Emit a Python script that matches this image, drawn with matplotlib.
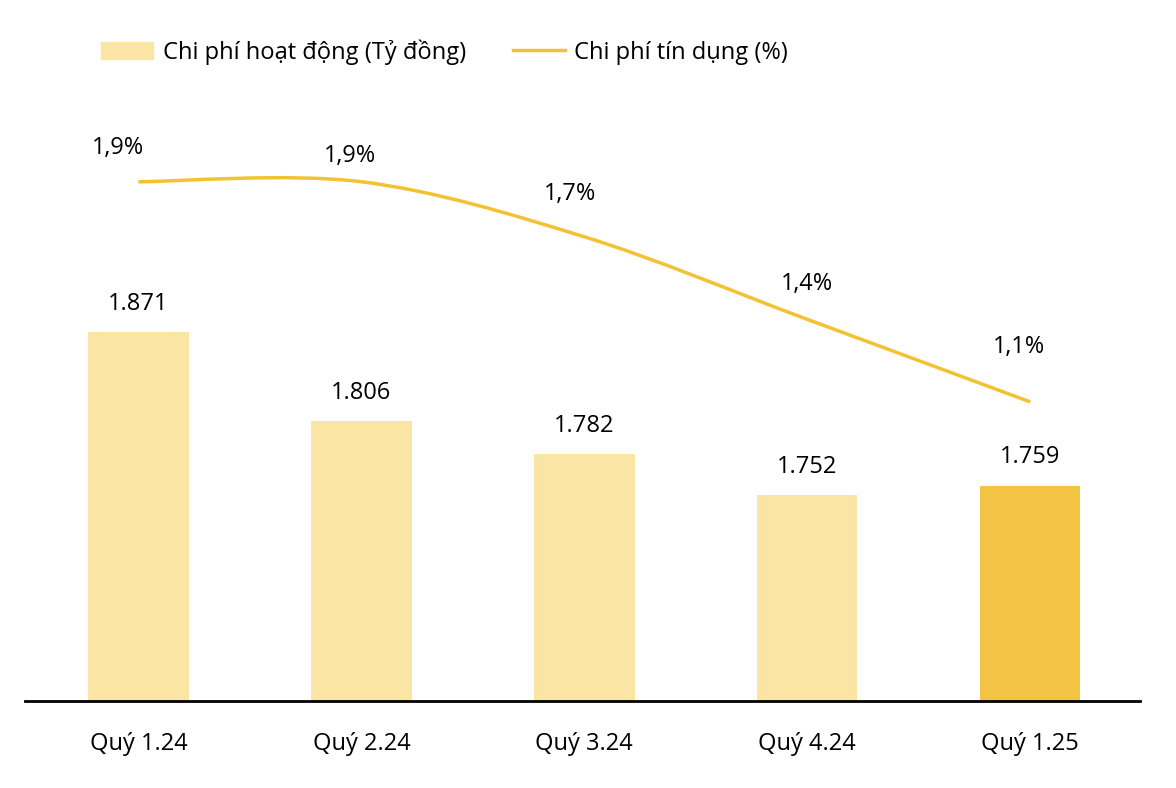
import matplotlib.pyplot as plt
from matplotlib.path import Path
from matplotlib.patches import PathPatch, Patch
from matplotlib.lines import Line2D

plt.rcParams['font.family'] = 'Open Sans'

## Datos
quarters = ['Quý 1.24', 'Quý 2.24', 'Quý 3.24', 'Quý 4.24', 'Quý 1.25']
op_cost = [1871, 1806, 1782, 1752, 1759]
credit_cost = [1.9, 1.9, 1.7, 1.4, 1.1]
op_labels = ['1.871', '1.806', '1.782', '1.752', '1.759']
cc_labels = ['1,9%', '1,9%', '1,7%', '1,4%', '1,1%']

light = '#FAE5A5'
dark = '#F3C343'
line_c = '#F2C233'

fig = plt.figure(figsize=(11.76, 7.88), dpi=100)
ax = fig.add_axes([0.021, 0.1104, 0.948, 0.763])
x = list(range(len(quarters)))
colors = [light] * (len(x) - 1) + [dark]
ax.bar(x, op_cost, width=0.45, color=colors, bottom=0)
ax.set_ylim(1602, 2040.7)
ax.set_xlim(-0.51, 4.49)
for xi, v, lab in zip(x, op_cost, op_labels):
    ax.annotate(lab, (xi, v), xytext=(0, 12), textcoords='offset points',
                ha='center', va='bottom', fontsize=17)
for s in ['top', 'right', 'left']:
    ax.spines[s].set_visible(False)
ax.spines['bottom'].set_linewidth(2)
ax.set_yticks([])
ax.set_xticks(x)
ax.set_xticklabels(quarters, fontsize=17)
ax.tick_params(axis='x', length=0, pad=22)

## Linea suavizada (Catmull-Rom -> Bezier)
ax2 = ax.twinx()
ax2.set_ylim(0.013, 2.198)
ax2.axis('off')
pts = list(zip(x, credit_cost))
verts = [pts[0]]
codes = [Path.MOVETO]
for i in range(len(pts) - 1):
    p0 = pts[i - 1] if i > 0 else pts[i]
    p1, p2 = pts[i], pts[i + 1]
    p3 = pts[i + 2] if i + 2 < len(pts) else pts[i + 1]
    c1 = (p1[0] + (p2[0] - p0[0]) / 6, p1[1] + (p2[1] - p0[1]) / 6)
    c2 = (p2[0] - (p3[0] - p1[0]) / 6, p2[1] - (p3[1] - p1[1]) / 6)
    verts += [c1, c2, p2]
    codes += [Path.CURVE4] * 3
ax2.add_patch(PathPatch(Path(verts, codes), fill=False, edgecolor=line_c, lw=2.5))

offsets = [(-15, 16), (-8, 10), (-10, 22), (0, 17), (-8, 31)]
for xi, v, lab, off in zip(x, credit_cost, cc_labels, offsets):
    ax2.annotate(lab, (xi, v), xytext=off, textcoords='offset points',
                 ha='center', va='bottom', fontsize=17)

handles = [Patch(color=light), Line2D([], [], color=line_c, lw=2.5)]
fig.legend(handles, ['Chi phí hoạt động (Tỷ đồng)', 'Chi phí tín dụng (%)'],
           loc='center left', bbox_to_anchor=(0.068, 0.934), ncol=2, frameon=False,
           fontsize=17, handlelength=2.2, columnspacing=2.0, handletextpad=0.4)

plt.savefig('out.png', dpi=100)
